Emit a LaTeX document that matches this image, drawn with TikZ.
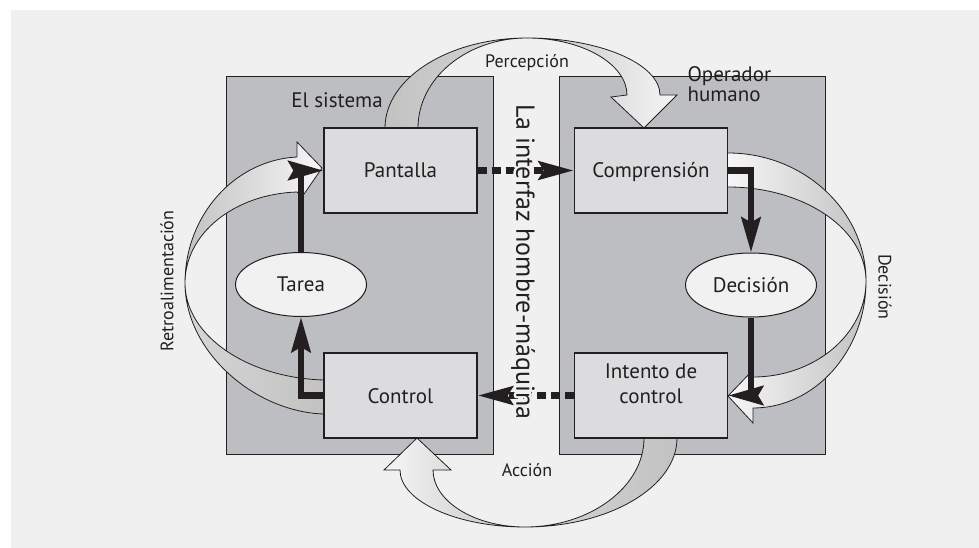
\documentclass[tikz,border=0pt]{standalone}
\usepackage{fontspec}
\setmainfont{PT Sans}
\usepackage[copies]{contour}
\usetikzlibrary{arrows.meta,shapes.geometric}

\definecolor{pagebg}{HTML}{F0F0F0}
\definecolor{panelgray}{HTML}{BDBEC1}
\definecolor{boxgray}{HTML}{DCDCDE}
\definecolor{ovalfill}{HTML}{F1F1F1}
\definecolor{ink}{HTML}{231F20}
\definecolor{ribbondark}{HTML}{C2C2C2}
\definecolor{ribbonmid}{HTML}{D6D6D6}
\definecolor{ribbonlight}{HTML}{F6F6F6}
\contourlength{2.5pt}

\begin{document}
\begin{tikzpicture}[x=1pt,y=-1pt,
  panel/.style={draw=ink, line width=0.9pt, fill=panelgray},
  stage/.style={draw=ink, line width=1.1pt, fill=boxgray, minimum width=153pt,
    minimum height=85pt, inner sep=0pt, align=center, text=ink,
    text height=15pt, text depth=0pt, font=\fontsize{21}{25}\selectfont},
  oval/.style={ellipse, draw=ink, line width=1pt, fill=ovalfill, minimum width=131pt,
    minimum height=64pt, inner sep=0pt, text=ink, font=\fontsize{21}{25}\selectfont},
  flow/.style={draw=ink, line width=6.5pt,
    -{Stealth[length=35pt,width=19pt,inset=5pt]}},
  link/.style={draw=ink, line width=7pt, dash pattern=on 9pt off 5pt,
    -{Stealth[length=35pt,width=18pt,inset=5pt]}},
  ribbon/.style={draw=ink, line width=0.8pt, line join=miter},
  caption/.style={text=ink, font=\fontsize{18}{22}\selectfont},
  heading/.style={text=ink, font=\fontsize{21}{20}\selectfont},
]
\useasboundingbox (0,0) rectangle (979,548);
\fill[pagebg] (11,10) rectangle (979,548);

% the two blocks: system and human operator
\draw[panel] (226,76) rectangle (493,454);
\draw[panel] (559,76) rectangle (825,454);

% ribbon "Percepcion" (top)
\shade[left color=ribbondark, right color=ribbonmid]
  (385,128) .. controls (385,78) and (449,38) .. (527,38)
  .. controls (467,38) and (418,78) .. (418,128) -- cycle;
\shade[left color=ribbondark, right color=ribbonlight]
  (527,38) .. controls (600,38) and (660,64) .. (660,95)
  -- (677,95) -- (644,128) -- (611,97) -- (627,95)
  .. controls (627,64) and (582,38) .. (527,38) -- cycle;
\draw[ribbon] (385,128) .. controls (385,78) and (449,38) .. (527,38)
  .. controls (600,38) and (660,64) .. (660,95)
  -- (677,95) -- (644,128) -- (611,97) -- (627,95)
  .. controls (627,64) and (582,38) .. (527,38)
  .. controls (467,38) and (418,78) .. (418,128);

% ribbon "Decision" (right)
\shade[left color=ribbonlight, right color=ribbondark]
  (728,153) .. controls (804,153) and (866,211) .. (866,281)
  .. controls (866,229) and (804,187) .. (728,187) -- cycle;
\shade[left color=ribbonlight, right color=ribbondark]
  (866,281) .. controls (866,351) and (815,408) .. (753,408)
  -- (753,423) -- (728,396) -- (753,370) -- (753,377)
  .. controls (815,377) and (866,334) .. (866,281) -- cycle;
\draw[ribbon] (728,153) .. controls (804,153) and (866,211) .. (866,281)
  .. controls (866,351) and (815,408) .. (753,408)
  -- (753,423) -- (728,396) -- (753,370) -- (753,377)
  .. controls (815,377) and (866,334) .. (866,281)
  .. controls (866,229) and (804,187) .. (728,187);

% ribbon "Accion" (bottom)
\shade[left color=ribbonmid, right color=ribbondark]
  (677,438) .. controls (677,487) and (609,527) .. (525,527)
  .. controls (590,527) and (644,487) .. (644,438) -- cycle;
\shade[left color=ribbonlight, right color=ribbondark]
  (525,527) .. controls (456,527) and (400,501) .. (400,470)
  -- (384,470) -- (417,438) -- (451,470) -- (433,470)
  .. controls (433,501) and (474,527) .. (525,527) -- cycle;
\draw[ribbon] (677,438) .. controls (677,487) and (609,527) .. (525,527)
  .. controls (456,527) and (400,501) .. (400,470)
  -- (384,470) -- (417,438) -- (451,470) -- (433,470)
  .. controls (433,501) and (474,527) .. (525,527)
  .. controls (590,527) and (644,487) .. (644,438);

% ribbon "Retroalimentacion" (left)
\shade[left color=ribbonmid, right color=ribbondark]
  (324,414) .. controls (255,412) and (185,352) .. (185,283)
  .. controls (185,336) and (248,378) .. (324,380) -- cycle;
\shade[left color=ribbondark, right color=ribbonlight]
  (185,283) .. controls (185,215) and (235,160) .. (297,157)
  -- (297,142) -- (322,168) -- (302,197) -- (297,192)
  .. controls (235,194) and (185,233) .. (185,283) -- cycle;
\draw[ribbon] (324,414) .. controls (255,412) and (185,352) .. (185,283)
  .. controls (185,215) and (235,160) .. (297,157)
  -- (297,142) -- (322,168) -- (302,197) -- (297,192)
  .. controls (235,194) and (185,233) .. (185,283)
  .. controls (185,336) and (248,378) .. (324,380);

% stages
\node[stage] (pant) at (400.5,170.5) {Pantalla};
\node[stage] (comp) at (651,170.5) {Comprensión};
\node[stage] (ctrl) at (400.5,395.5) {Control};
\node[stage] (intc) at (651,395.5) {Intento de\\control};
\node[oval] (tarea) at (301,284.5) {Tarea};
\node[oval] (deci) at (751,285) {Decisión};

% internal loops
\draw[flow] (ctrl.west) -| (tarea.south);
\draw[flow] (tarea.north) |- (pant.west);
\draw[flow] (comp.east) -| (deci.north);
\draw[flow] (deci.south) |- (intc.east);

% exchanges across the interface
\draw[link] (pant.east) -- (comp.west);
\draw[link] (intc.west) -- (ctrl.east);

% labels
\node[heading] (sis) at (337,100) {El sistema};
\node[heading, anchor=north west, align=left, text height=15pt] (oper) at (684,83) {Operador\\humano};
\node[caption] (perc) at (527,63) {Percepción};
\node[caption] (acc) at (527,470) {Acción};
\node[caption, rotate=-90] (decl) at (885,287) {Decisión};
\node[caption, rotate=90] (retro) at (167,281) {Retroalimentación};
\node[text=ink, rotate=-90, font=\fontsize{26}{30}\selectfont] (hmi) at (522,262)
  {\contour{pagebg}{La interfaz hombre-máquina}};
\end{tikzpicture}
\end{document}
